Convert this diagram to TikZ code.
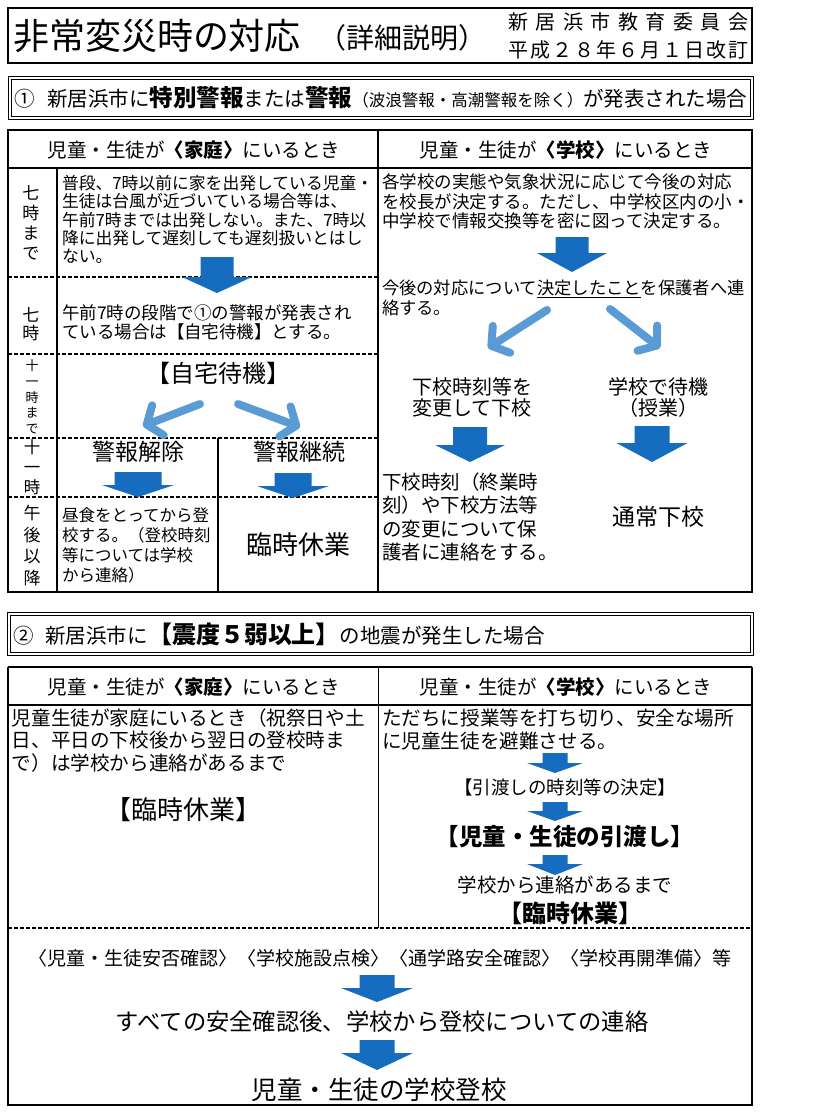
\documentclass[tikz,border=0pt]{standalone}
\usepackage{fontspec}
\setmainfont{Noto Sans CJK JP}
\usetikzlibrary{arrows.meta}
\newcommand\fsz[2]{\fontsize{#1}{#2}\selectfont}
\definecolor{blockblue}{RGB}{22,108,190}
\definecolor{lightblue}{RGB}{91,155,213}
\newcommand\blockarrow[6]{\fill[blockblue] ({#1-#5/2},#2) -- ({#1+#5/2},#2) -- ({#1+#5/2},#3) -- ({#1+#6/2},#3) -- (#1,#4) -- ({#1-#6/2},#3) -- ({#1-#5/2},#3) -- cycle;}
\tikzset{
  frame/.style={line width=1.3pt},
  heavy/.style={line width=2pt},
  dashline/.style={line width=1.2pt, dash pattern=on 4pt off 2pt},
  txt/.style={inner sep=0pt, outer sep=0pt},
  lt/.style={txt, anchor=west, align=left},
  ctr/.style={txt, anchor=center, align=center},
  lightarrow/.style={draw=lightblue, line width=8pt, line cap=round, -{Straight Barb[length=12pt, width=32pt, round]}}
}
\begin{document}
\begin{tikzpicture}[x=1pt,y=-1pt]
\useasboundingbox (0,0) rectangle (819,1117);
\fill[white] (0,0) rectangle (819,1117);

% ---------- title ----------
\draw[frame] (8,8) rectangle (752,63);
\node[lt, font=\fsz{36}{42}] (title) at (13,36) {非常変災時の対応};
\node[lt, font=\fsz{28}{32}] (subtitle) at (318,38) {（詳細説明）};
\node[ctr, font=\fsz{20}{24}] (org) at (628,22) {\hbox to 240pt{新\hfil 居\hfil 浜\hfil 市\hfil 教\hfil 育\hfil 委\hfil 員\hfil 会}};
\node[ctr, font=\fsz{20}{24}] (date) at (628,50) {\hbox to 240pt{平\hfil 成\hfil ２\hfil ８\hfil 年\hfil ６\hfil 月\hfil １\hfil 日\hfil 改\hfil 訂}};

% ---------- section 1 ----------
\draw[line width=0.9pt] (8,76) rectangle (753,119);
\draw[line width=0.9pt] (11,79) rectangle (750,116);
\node[lt, font=\fsz{20.5}{24}] (sec1) at (15,98) {①\hspace{12pt}新居浜市に{\bfseries\fsz{23.5}{28}特別警報}または{\bfseries\fsz{23.5}{28}警報}{\fsz{16.5}{20}（波浪警報・高潮警報を除く）}が発表された場合};

% ---------- table 1 ----------
\draw[frame] (8,130) rectangle (752,592);
\draw[heavy] (8,130) -- (752,130);
\draw[heavy] (8,592) -- (752,592);
\draw[frame] (8,168) -- (752,168);
\draw[frame] (378,130) -- (378,592);
\draw[frame] (57,168) -- (57,592);
\draw[frame] (218,438) -- (218,592);
\draw[dashline] (8,277) -- (378,277);
\draw[dashline] (8,354) -- (378,354);
\draw[dashline] (8,438) -- (378,438);
\draw[dashline] (8,497) -- (378,497);

\node[ctr, font=\fsz{19.5}{24}] (h1l) at (194,150) {児童・生徒が{\bfseries 〈家庭〉}にいるとき};
\node[ctr, font=\fsz{19.5}{24}] (h1r) at (566,150) {児童・生徒が{\bfseries 〈学校〉}にいるとき};

% row labels
\node[ctr, font=\fsz{17}{20}] (lab1) at (31,223) {七\\時\\ま\\で};
\node[ctr, font=\fsz{17}{18.5}] (lab2) at (31,324) {七\\時};
\node[ctr, font=\fsz{13}{15.7}] (lab3) at (32,397) {十\\一\\時\\ま\\で};
\node[ctr, font=\fsz{16.5}{20}] (lab4) at (32,467) {十\\一\\時};
\node[ctr, font=\fsz{17}{21.5}] (lab5) at (32,545.5) {午\\後\\以\\降};

% left column texts
\node[lt, font=\fsz{16.8}{18.2}] (r1l) at (62,219.5) {普段、7時以前に家を出発している児童・\\生徒は台風が近づいている場合等は、\\午前7時までは出発しない。また、7時以\\降に出発して遅刻しても遅刻扱いとはし\\ない。};
\blockarrow{217}{257}{277}{293}{33}{70}
\node[lt, font=\fsz{17.5}{19}] (r2l) at (62,322.5) {午前7時の段階で①の警報が発表され\\ている場合は【自宅待機】とする。};
\node[ctr, font=\fsz{24}{28}] (wait) at (218,373) {【自宅待機】};
\coordinate (la1s) at (200,404);
\coordinate (la1e) at (143,426);
\coordinate (la2s) at (238,404);
\coordinate (la2e) at (300,427);
\draw[lightarrow] (la1s) -- (la1e);
\draw[lightarrow] (la2s) -- (la2e);
\node[ctr, font=\fsz{23}{28}] (lift) at (138,452) {警報解除};
\node[ctr, font=\fsz{23}{28}] (cont) at (299,452) {警報継続};
\blockarrow{138}{472}{485}{497}{47}{72}
\blockarrow{293}{473}{486}{498}{37}{72}
\node[lt, font=\fsz{16.5}{20}] (r5l) at (62,545) {昼食をとってから登\\校する。（登校時刻\\等については学校\\から連絡）};
\node[ctr, font=\fsz{26}{30}] (closed1) at (298,545) {臨時休業};

% right column texts
\node[lt, font=\fsz{17.5}{19.5}] (r1r) at (382,201.5) {各学校の実態や気象状況に応じて今後の対応\\を校長が決定する。ただし、中学校区内の小・\\中学校で情報交換等を密に図って決定する。};
\blockarrow{572}{237}{253}{272}{33}{70}
\node[lt, font=\fsz{17.3}{20}] (r2r) at (382,298) {今後の対応について\underline{決定したこと}を保護者へ連\\絡する。};
\coordinate (ra1s) at (547,310);
\coordinate (ra1e) at (488,348);
\coordinate (ra2s) at (610,309);
\coordinate (ra2e) at (660,348);
\draw[lightarrow] (ra1s) -- (ra1e);
\draw[lightarrow] (ra2s) -- (ra2e);
\node[ctr, font=\fsz{20}{21}] (change) at (472,397.5) {下校時刻等を\\変更して下校};
\node[ctr, font=\fsz{20}{21}] (stay) at (658,397.5) {学校で待機\\（授業）};
\blockarrow{470}{427}{445}{462}{34}{70}
\blockarrow{652}{426}{443}{462}{35}{71}
\node[lt, font=\fsz{19.5}{23.3}] (notify) at (382,517) {下校時刻（終業時\\刻）や下校方法等\\の変更について保\\護者に連絡をする。};
\node[ctr, font=\fsz{23}{28}] (normal) at (658,517) {通常下校};

% ---------- section 2 ----------
\draw[line width=0.9pt] (7,612) rectangle (753,655);
\draw[line width=0.9pt] (10,615) rectangle (750,652);
\node[lt, font=\fsz{20.5}{24}] (sec2) at (13,634) {②\hspace{12pt}新居浜市に{\bfseries\fsz{24}{28}【震度５弱以上】}の地震が発生した場合};

% ---------- table 2 ----------
\draw[heavy] (8,667) -- (752,667);
\draw[frame] (8,667) -- (8,1105) -- (752,1105) -- (752,667);
\draw[frame] (8,705) -- (752,705);
\draw[line width=0.8pt] (378,667) -- (378,928);
\draw[dashline] (8,928) -- (752,928);

\node[ctr, font=\fsz{19.5}{24}] (h2l) at (194,687) {児童・生徒が{\bfseries 〈家庭〉}にいるとき};
\node[ctr, font=\fsz{19.5}{24}] (h2r) at (566,687) {児童・生徒が{\bfseries 〈学校〉}にいるとき};

\node[lt, font=\fsz{19.6}{22.5}] (home2) at (12,740.5) {児童生徒が家庭にいるとき（祝祭日や土\\日、平日の下校後から翌日の登校時ま\\で）は学校から連絡があるまで};
\node[ctr, font=\fsz{26}{30}] (closed2) at (183,810) {【臨時休業】};

\node[lt, font=\fsz{19.6}{23}] (school2) at (382,729.5) {ただちに授業等を打ち切り、安全な場所\\に児童生徒を避難させる。};
\blockarrow{555}{753}{763}{773}{25}{56}
\node[ctr, font=\fsz{18.5}{22}] (decide) at (565,787) {【引渡しの時刻等の決定】};
\blockarrow{555}{802}{811}{821}{25}{56}
\node[ctr, font=\bfseries] (handover) at (565,837) {\fsz{23.5}{28}【児童・生徒の引渡し】};
\blockarrow{555}{855}{864}{875}{25}{56}
\node[ctr, font=\fsz{19.5}{23}] (until) at (565,885) {学校から連絡があるまで};
\node[ctr, font=\bfseries] (closed3) at (570,913) {\fsz{24}{28}【臨時休業】};

\node[ctr, font=\fsz{19}{23}] (checks) at (380,958) {〈児童・生徒安否確認〉〈学校施設点検〉〈通学路安全確認〉〈学校再開準備〉等};
\blockarrow{377}{975}{988}{1002}{35}{72}
\node[ctr, font=\fsz{23.3}{28}] (contact) at (382,1022) {すべての安全確認後、学校から登校についての連絡};
\blockarrow{377}{1040}{1053}{1070}{35}{72}
\node[ctr, font=\fsz{25.5}{30}] (attend) at (379,1090) {児童・生徒の学校登校};
\end{tikzpicture}
\end{document}
